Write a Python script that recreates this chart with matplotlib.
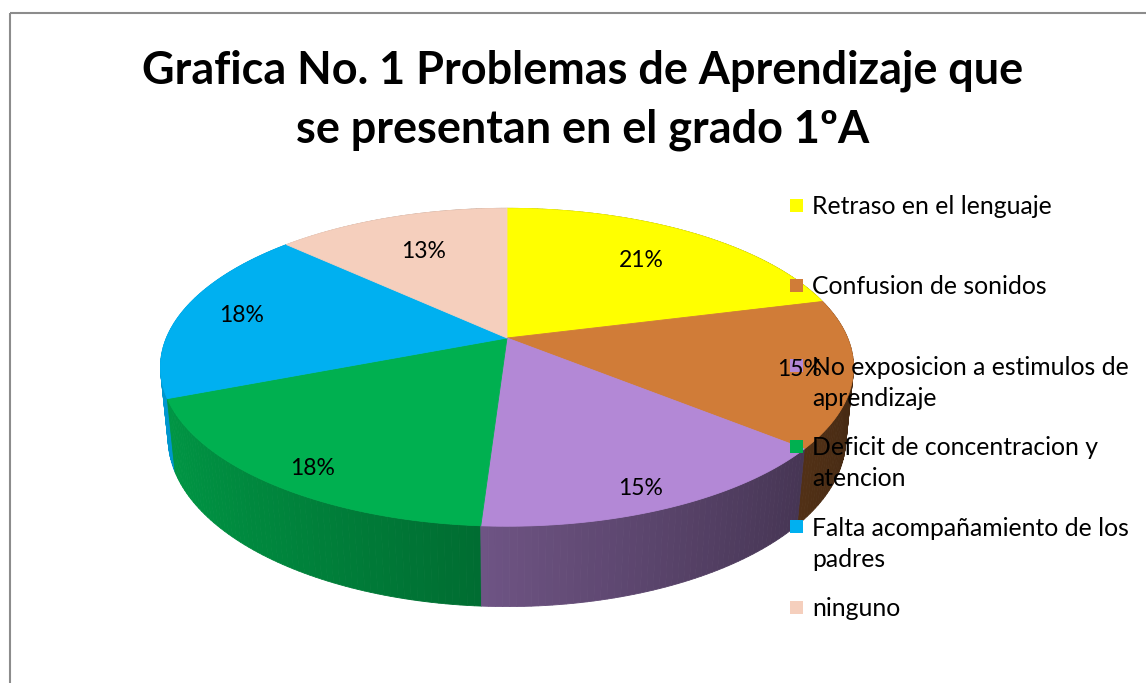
import numpy as np
import matplotlib.pyplot as plt
from matplotlib.patches import Polygon, Rectangle
from matplotlib.colors import to_rgb

categories = [
    "Retraso en el lenguaje",
    "Confusion de sonidos",
    "No exposicion a estimulos de\naprendizaje",
    "Deficit de concentracion y\natencion",
    "Falta acompañamiento de los\npadres",
    "ninguno",
]
values = [21, 15, 15, 18, 18, 13]
colors = ['#FFFF00', '#D07C38', '#B388D6', '#00B050', '#00B0F0', '#F5CFBD']
title = "Grafica No. 1 Problemas de Aprendizaje que\nse presentan en el grado 1ºA"

plt.rcParams['font.family'] = ['Lato', 'DejaVu Sans']

# 3D pie projection, everything in pixel space of the figure
CX, CY = 507, 338
ELEV = np.radians(26.8)
DIST = 4.85
FOC = 1652
THICK = 0.235


def project(r, theta, z=0.0):
    x = r * np.sin(theta)
    y = r * np.cos(theta)
    v = y * np.sin(ELEV) + z * np.cos(ELEV)
    d = DIST + y * np.cos(ELEV) - z * np.sin(ELEV)
    return CX + FOC * x / d, CY - FOC * v / d


fig = plt.figure(figsize=(11.46, 6.83), dpi=100)
ax = fig.add_axes([0, 0, 1, 1])
ax.set_xlim(0, 1146)
ax.set_ylim(683, 0)
ax.axis('off')

# chart frame
ax.add_patch(Rectangle((9.5, 12.5), 1200, 700, fill=False, edgecolor='#8c8c8c', lw=1.5))

fracs = np.array(values, dtype=float) / sum(values)
edges = np.concatenate([[0], np.cumsum(fracs)]) * 2 * np.pi

# side walls, far to near
segs = []
for i, col in enumerate(colors):
    base = np.array(to_rgb(col))
    n = max(int(fracs[i] * 360), 4)
    ts = np.linspace(edges[i], edges[i + 1], n + 1)
    for t0, t1 in zip(ts[:-1], ts[1:]):
        tm = 0.5 * (t0 + t1)
        shade = np.clip(base * (0.6 - 0.27 * np.sin(tm)), 0, 1)
        pts = [project(1, t0), project(1, t1), project(1, t1, -THICK), project(1, t0, -THICK)]
        segs.append((np.cos(tm), pts, shade))
segs.sort(key=lambda s: -s[0])
for _, pts, shade in segs:
    ax.add_patch(Polygon(pts, closed=True, facecolor=shade, edgecolor=shade, lw=0.6))

# top faces
for i, col in enumerate(colors):
    ts = np.linspace(edges[i], edges[i + 1], 200)
    pts = [project(0, 0)] + [project(1, t) for t in ts]
    ax.add_patch(Polygon(pts, closed=True, facecolor=col, edgecolor=col, lw=0.6))

# data labels
for i in range(len(values)):
    tm = 0.5 * (edges[i] + edges[i + 1])
    c = np.cos(tm)
    rho = 0.85 - 0.18 * max(c, 0)
    lx, ly = project(rho, tm, -0.035 * max(-c, 0))
    ax.text(lx, ly, f"{fracs[i]:.0%}", ha='center', va='center', fontsize=16.5, color='black')

# legend
ys = np.linspace(205, 607, len(categories))
for y, lab, col in zip(ys, categories, colors):
    ax.add_patch(Rectangle((790, y - 6.5), 13, 13, facecolor=col, edgecolor='none'))
    ax.text(812, y - 10, lab, ha='left', va='top', fontsize=17.8, linespacing=1.42)

ax.text(583, 100, title, ha='center', va='center', fontsize=32.4, fontweight='bold',
        linespacing=1.5)

fig.savefig('out.png', dpi=100)
